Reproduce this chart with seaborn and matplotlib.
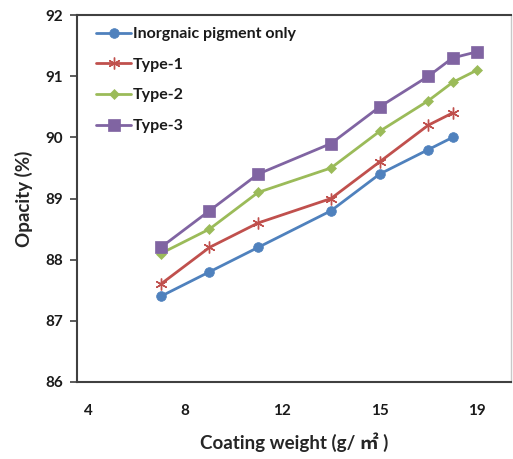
import matplotlib
matplotlib.use("Agg")
import matplotlib.pyplot as plt
import pandas as pd
import seaborn as sns

# coating weight positions (g/m2) and opacity (%)
coating_weight = [7, 9, 11, 14, 16, 18, 19, 20]
inorganic_only = [87.4, 87.8, 88.2, 88.8, 89.4, 89.8, 90.0]
type_1 = [87.6, 88.2, 88.6, 89.0, 89.6, 90.2, 90.4]
type_2 = [88.1, 88.5, 89.1, 89.5, 90.1, 90.6, 90.9, 91.1]
type_3 = [88.2, 88.8, 89.4, 89.9, 90.5, 91.0, 91.3, 91.4]

series_names = ["Inorgnaic pigment only", "Type-1", "Type-2", "Type-3"]
x_ticks = [4, 8, 12, 16, 20]
x_tick_labels = ["4", "8", "12", "15", "19"]
y_ticks = [86, 87, 88, 89, 90, 91, 92]

sns.set_style("white")
plt.rcParams['font.family'] = ['Lato', 'Noto Sans CJK SC', 'DejaVu Sans']

fig = plt.figure(figsize=(5.13, 4.59), dpi=100)
ax = fig.add_axes([0.150, 0.168, 0.846, 0.799])

colors = ['#4F81BD', '#C0504D', '#9BBB59', '#8064A2']
markers = ['o', (6, 2, 0), 'D', 's']
msizes = [7, 8.5, 5, 8]

for name, vals, c, m, ms in zip(series_names, [inorganic_only, type_1, type_2, type_3],
                                colors, markers, msizes):
    df = pd.DataFrame({'x': coating_weight[:len(vals)], 'y': vals})
    sns.lineplot(data=df, x='x', y='y', ax=ax, color=c, marker=m, markersize=ms,
                 markeredgecolor=c, markeredgewidth=1.0 if m == (6, 2, 0) else 0.5,
                 linewidth=2, label=name)

ax.set_xlim(3.55, 21.4)
ax.set_ylim(86, 92)
ax.set_xticks(x_ticks)
ax.set_xticklabels(x_tick_labels)
ax.set_yticks(y_ticks)

ax.tick_params(axis='x', length=0, pad=16, labelsize=11, labelcolor='#1a1a1a')
ax.tick_params(axis='y', direction='out', length=5, width=1.2, color='#404040',
               pad=5, labelsize=11, labelcolor='#1a1a1a', left=True)
for lab in ax.get_xticklabels() + ax.get_yticklabels():
    lab.set_fontweight('bold')

for side in ['left', 'bottom', 'top']:
    ax.spines[side].set_color('#404040')
    ax.spines[side].set_linewidth(1.5)
ax.spines['right'].set_color('#c8c8c8')
ax.spines['right'].set_linewidth(1.0)

ax.set_xlabel('Coating weight (g/ ㎡ )', fontsize=13.5, fontweight='bold', labelpad=10)
ax.set_ylabel('Opacity (%)', fontsize=13.5, fontweight='bold', labelpad=9)

leg = ax.legend(loc='upper left', frameon=False, prop={'weight': 'bold', 'size': 11.5},
                handlelength=2.2, handletextpad=0.1, labelspacing=1.03,
                borderaxespad=0.0, bbox_to_anchor=(0.03, 0.985))
for t in leg.get_texts():
    t.set_color('#1a1a1a')

fig.savefig('out.png', dpi=100)
